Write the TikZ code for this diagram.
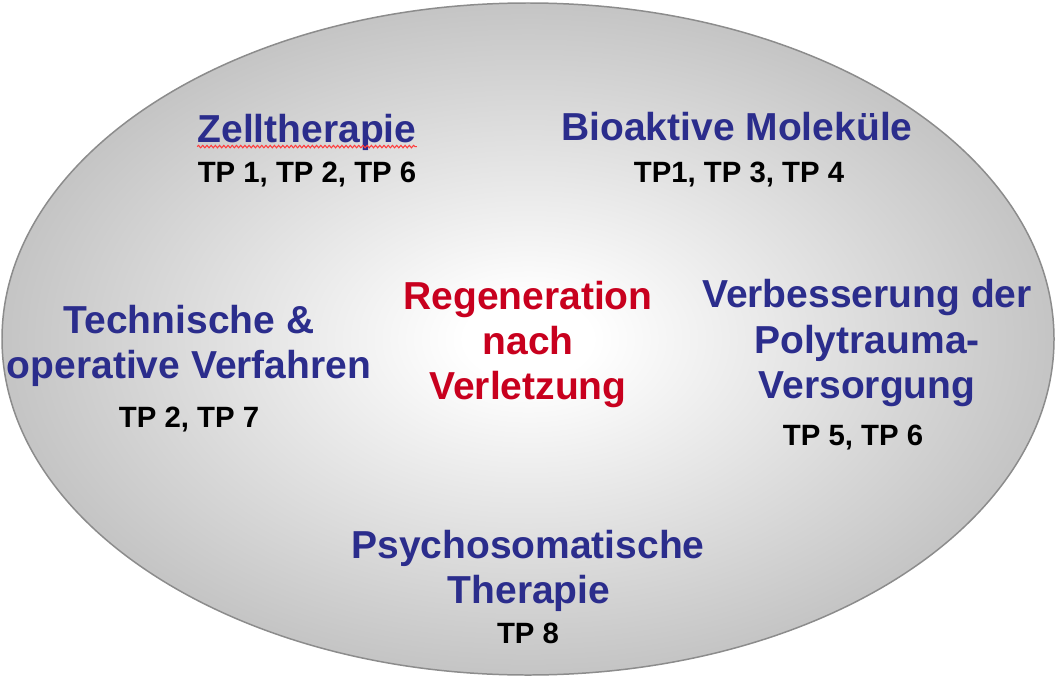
\documentclass[tikz,border=0pt]{standalone}
\usepackage{fontspec}
\setmainfont{Liberation Sans}
\usetikzlibrary{decorations.pathmorphing}
\definecolor{ttblue}{RGB}{43,45,140}
\definecolor{ttred}{RGB}{200,0,30}
\definecolor{rimgray}{RGB}{140,140,140}
\definecolor{wavered}{RGB}{255,60,60}
\pgfdeclareradialshading{ovalshade}{\pgfpoint{0bp}{0bp}}{%
  color(0bp)=(white); color(3bp)=(white); color(25bp)=(black!23); color(50bp)=(black!23)}
\begin{document}
\begin{tikzpicture}[x=0.02cm,y=-0.02cm,
  bigtxt/.style={anchor=base,inner sep=0pt,font=\bfseries\fontsize{22.2pt}{26pt}\selectfont},
  topic/.style={bigtxt,text=ttblue},
  core/.style={bigtxt,text=ttred},
  tplabel/.style={anchor=base,inner sep=0pt,text=black,font=\bfseries\fontsize{16.7pt}{20pt}\selectfont}]
\useasboundingbox (0,0) rectangle (1057,679);
\path[shading=ovalshade,draw=rimgray,line width=0.85pt] (528,339) ellipse [x radius=526, y radius=336];
% centre
\node[core] (reg1) at (528,309) {Regeneration};
\node[core] (reg2) at (528,354) {nach};
\node[core] (reg3) at (528,399) {Verletzung};
% Zelltherapie
\node[topic] (zell) at (307,142) {Zelltherapie};
\node[tplabel] (zelltp) at (307,182) {TP 1, TP 2, TP 6};
\draw[wavered,line width=0.6pt,decorate,decoration={snake,amplitude=0.7pt,segment length=2.4pt}]
  ([yshift=-2.6pt]zell.base west) -- ([yshift=-2.6pt]zell.base east);
% Bioaktive
\node[topic] (bio) at (737,140) {Bioaktive Moleküle};
\node[tplabel] (biotp) at (739,182) {TP1, TP 3, TP 4};
% Technische
\node[topic] (tech1) at (189,333) {Technische \&};
\node[topic] (tech2) at (189,378) {operative Verfahren};
\node[tplabel] (techtp) at (189,427) {TP 2, TP 7};
% Polytrauma
\node[topic] (poly1) at (867,307) {Verbesserung der};
\node[topic] (poly2) at (867,353) {Polytrauma-};
\node[topic] (poly3) at (867,398) {Versorgung};
\node[tplabel] (polytp) at (853,445) {TP 5, TP 6};
% Psychosomatik
\node[topic] (psy1) at (528,558) {Psychosomatische};
\node[topic] (psy2) at (529,603) {Therapie};
\node[tplabel] (psytp) at (528,643) {TP 8};
\end{tikzpicture}
\end{document}
